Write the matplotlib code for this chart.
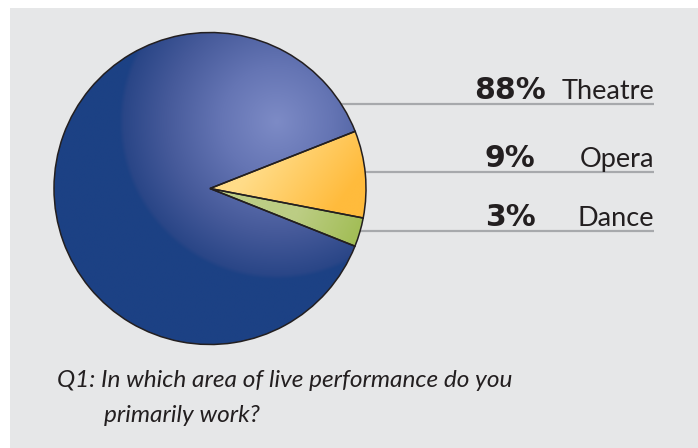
import numpy as np
import matplotlib
matplotlib.use("Agg")
import matplotlib.pyplot as plt
from matplotlib.patches import Rectangle
from matplotlib.colors import to_rgb

# ---- data ----
categories = ["Theatre", "Opera", "Dance"]
values = [88, 9, 3]
pct_labels = ["88%", "9%", "3%"]
caption_line1 = "Q1: In which area of live performance do you"
caption_line2 = "primarily work?"

W, H = 698, 448
fig = plt.figure(figsize=(W / 100, H / 100), dpi=100, facecolor="white")
ax = fig.add_axes([0, 0, 1, 1])
ax.set_axis_off()

def Y(ypx):
    return H - ypx

LABEL_FONT = ["Lato", "DejaVu Sans"]

# background panel
ax.add_patch(Rectangle((10, 0), W - 10, H - 8, facecolor="#e6e7e8", edgecolor="none", zorder=0))

cx, cy, r = 210, 188.5, 156
wedges, _ = ax.pie(values, startangle=-21.7, counterclock=False,
                   center=(cx, Y(cy)), radius=r,
                   wedgeprops=dict(edgecolor="#231f20", linewidth=1.1, facecolor="none"))
for w in wedges:
    w.set_zorder(4)

# gradient fills
N = 400
xs = np.linspace(cx - r, cx + r, N)
ys = np.linspace(cy - r, cy + r, N)  # pixel y (top->bottom)
X, Yp = np.meshgrid(xs, ys)
extent = [cx - r, cx + r, Y(cy + r), Y(cy - r)]

def lerp_stops(t, stops):
    t = np.clip(t, 0, 1)
    out = np.zeros(t.shape + (3,))
    pos = [s[0] for s in stops]
    cols = [np.array(to_rgb(s[1])) for s in stops]
    for k in range(3):
        out[..., k] = np.interp(t, pos, [c[k] for c in cols])
    return out

# blue radial
d = np.sqrt((X - 277) ** 2 + (Yp - 122) ** 2) / 158
blue = lerp_stops(d, [(0, "#7d8bc6"), (0.35, "#6575b4"), (0.7, "#465a9a"), (0.97, "#2a4687"), (1.0, "#1c4184"), (1.5, "#1a4285")])
# opera linear
t_op = ((X - 290) * 0.8 + (Yp - 150) * 0.6) / 90
op = lerp_stops((t_op + 0.2), [(0, "#ffdc88"), (1, "#ffbb3c")])
t_da = ((X - 300) * 0.9 + (Yp - 210) * 0.45) / 70
da = lerp_stops(t_da, [(0, "#bccd84"), (1, "#a0bc52")])

for w, img in zip(wedges, [blue, op, da]):
    im = ax.imshow(img, extent=extent, origin="upper", zorder=3, interpolation="bilinear")
    im.set_clip_path(w)

# leader lines and labels
line_y = [104, 172, 231]
line_color = "#a7a9ac"
for i, (cat, pl) in enumerate(zip(categories, pct_labels)):
    ly = line_y[i]
    ax.plot([cx, 654], [Y(ly), Y(ly)], color=line_color, lw=1.6, zorder=2, solid_capstyle="butt")
    ax.text(654, Y(ly - 5), cat, ha="right", va="baseline", fontsize=19.5,
            family=LABEL_FONT, fontweight="normal", color="#231f20", zorder=5)
    ax.text(510, Y(ly - 5), pl, ha="center", va="baseline", fontsize=21.5,
            family="DejaVu Sans", fontweight="heavy", color="#231f20", zorder=5)

ax.text(57, Y(387), caption_line1, ha="left", va="baseline", fontsize=17.6,
        family=LABEL_FONT, fontweight="normal", style="italic", color="#231f20")
ax.text(104, Y(422), caption_line2, ha="left", va="baseline", fontsize=17.6,
        family=LABEL_FONT, fontweight="normal", style="italic", color="#231f20")

ax.set_xlim(0, W)
ax.set_ylim(0, H)
ax.set_aspect("auto")
fig.savefig("out.png", dpi=100, facecolor="white")
